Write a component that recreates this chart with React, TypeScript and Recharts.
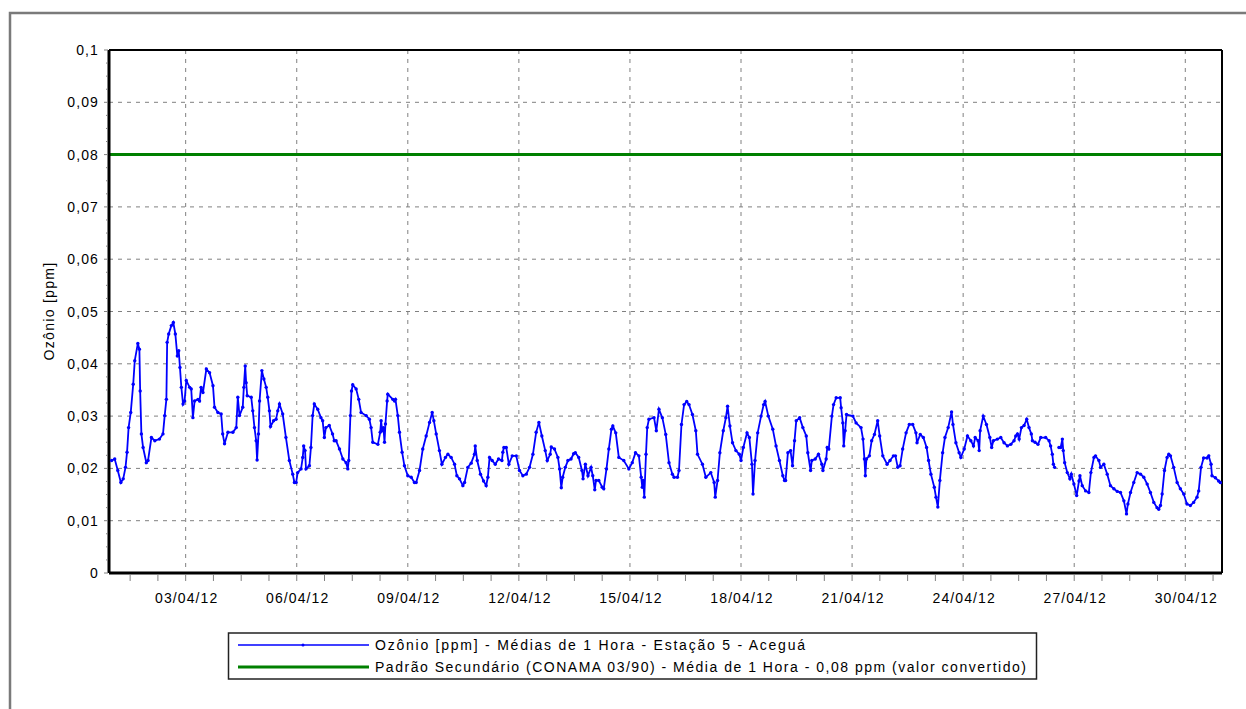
import React from 'react';
import { LineChart, Line, XAxis, YAxis, CartesianGrid, ReferenceLine } from 'recharts';

// Hours since 01/04/12 00:00
const hours: number[] = [
  0, 2, 4, 6, 7.5, 9, 10, 11, 12.4, 14, 15, 17, 18, 18.5, 19.3, 20.4, 22.5, 23.6, 25.8, 28,
  31, 33.3, 34.4, 35.5, 36, 37, 38.7, 40, 41.3, 42.6, 43.5, 44.3, 45.2, 46.3, 47.3, 48.4, 50.6, 51.6, 52.7, 53.8,
  56, 57, 58, 59.2, 61.4, 63.5, 65.7, 66.7, 68.9, 71, 72, 73.2, 75.4, 78.6, 80.8, 81.8, 82.9, 85, 85.7, 86.6,
  87.2, 87.9, 90.5, 91.5, 92.6, 93.7, 94.3, 95.2, 95.9, 97.4, 98.7, 100.2, 101.2, 102.3, 103, 105, 106.6, 107.7, 108.8, 110.9,
  113, 115.2, 117.4, 118.5, 119.6, 120.6, 122.8, 123.9, 124.5, 125.4, 126, 128.2, 129.2, 130.3, 131.4, 133.6, 135.7, 136.8, 137.9, 138.9,
  141.1, 143.2, 144.3, 145.5, 147.7, 149.9, 152, 153.1, 153.7, 154.8, 155.5, 156.3, 158.5, 160.2, 161.7, 165, 167.1, 168.2, 169.3, 172.6,
  174.1, 174.7, 175.4, 176.2, 176.9, 177.5, 178.6, 179, 182.3, 183.4, 184, 185.5, 186.6, 188.3, 189.8, 192, 194.2, 196.3, 197.4, 199.6,
  201.7, 203.9, 206.1, 207.8, 208.9, 210.4, 212.5, 214.1, 216.4, 218, 220.1, 222.3, 223.8, 225.5, 227.7, 228.8, 230.9, 233.1, 235.2, 235.7,
  237, 239.1, 241.1, 242.8, 243.9, 245, 246.7, 248.7, 250.8, 253, 253.6, 254.3, 255.8, 257.5, 259.7, 262.3, 264.4, 266.6, 268.8, 270.9,
  273.1, 275.2, 277, 278.9, 281.1, 282.4, 284.3, 285, 287.1, 289.3, 290.4, 291.5, 292.4, 294.1, 295.8, 297.8, 299.5, 300.6, 302.8, 304.9,
  305.6, 307.1, 308.8, 310.8, 311.9, 313.2, 314, 315.8, 318, 319, 320.8, 322.3, 324, 324.9, 326.8, 328.8, 332, 335.3, 337.5, 339.6,
  341.8, 343.3, 344, 344.6, 345.3, 346.4, 347.2, 348.3, 351.6, 353.1, 354.8, 357, 359.2, 361.3, 363.5, 364.6, 366.8, 367.8, 369.4, 371.1,
  372.8, 374.3, 376.5, 378.7, 379.8, 383, 385.2, 388.4, 390.6, 391.3, 392.8, 394.3, 396.5, 398.2, 399.3, 400.8, 402.5, 404.7, 406.9, 408,
  409.5, 411.9, 413.4, 415.1, 415.8, 417.1, 418.8, 421, 422.7, 423.6, 425.7, 428.6, 430.7, 432.9, 435.1, 436.2, 436.9, 438.4, 440.1, 441.4,
  442.7, 443.8, 446, 448.1, 450.3, 451.3, 453.1, 453.9, 456.1, 458.2, 460.4, 461.1, 463.2, 463.9, 464.9, 466.9, 468, 469.7, 472.3, 472.9,
  474, 474.6, 475.5, 476.4, 480.5, 482.6, 485.8, 487.1, 488, 488.6, 489.3, 491.2, 492.7, 494.5, 496.6, 497.9, 499.9, 502.7, 504.6, 506.8,
  508.1, 509.6, 511.1, 512.8, 515, 517.1, 519.3, 521.4, 522.1, 524.2, 526.2, 528.3, 529.6, 531.1, 533.3, 534.4, 535.6, 536.9, 538.7, 540.2,
  542.3, 544.5, 545.4, 547.3, 549.4, 550.5, 552.7, 554.8, 557, 558.7, 559.8, 561.7, 562.4, 563, 565, 567.1, 569.3, 570.5, 571.6, 574.2,
  576.4, 578.5, 580.7, 582.9, 585, 586.1, 587.2, 588.3, 589.8, 591.5, 593.2, 594.7, 596.2, 596.9, 598.6, 600.5, 602.3, 605.5, 607.7, 608.7,
  609.8, 610.5, 611.3, 612.5, 614.1, 615.2, 616.3, 616.9, 617.8, 619.5, 621.2, 622.1, 623.8, 625.6, 627.1, 627.7, 629.2, 631.4, 633.5, 634.8,
  636.8, 637.8, 640, 641.1, 643.2, 645.4, 647.5, 649.7, 651.9, 654, 656.2, 657.9, 658.8, 660.5, 662.6, 664.8, 667, 669.1, 671.3, 673.4,
  675.6, 677.7, 678.8, 679.9, 681, 682.5, 684.2, 685.3, 686.4, 688.5, 690.7, 692.8, 695, 697.1, 699.3, 701.4, 703.6, 704.7, 706.2, 707.9,
  710.1, 711.2, 712.7, 713.3, 715.5, 717.6, 718.7,
];

// Ozone [ppm], hourly means, Estação 5 - Aceguá (null = missing data)
const ozone: (number | null)[] = [
  0.0215, 0.0218, 0.0196, 0.0173, 0.0180, 0.0202, 0.0231, 0.0278, 0.0307, 0.0361, 0.0406, 0.0439, 0.0428, 0.0348, 0.0266, 0.0240, 0.0211, 0.0215, 0.0259, 0.0253,
  0.0256, 0.0266, 0.0301, 0.0332, 0.0441, 0.0457, 0.0473, 0.0479, 0.0457, 0.0415, 0.0425, 0.0393, 0.0355, 0.0323, 0.0329, 0.0368, 0.0355, 0.0352, 0.0297, 0.0329,
  0.0332, 0.0329, 0.0355, 0.0345, 0.0390, 0.0383, 0.0358, 0.0317, 0.0307, 0.0304, 0.0266, 0.0247, 0.0269, 0.0269, 0.0278, 0.0336, 0.0301, 0.0317, 0.0355, 0.0396,
  0.0364, 0.0339, 0.0336, 0.0310, 0.0278, 0.0253, 0.0216, 0.0266, 0.0329, 0.0387, 0.0371, 0.0355, 0.0336, 0.0310, 0.0280, 0.0291, 0.0294, 0.0310, 0.0323, 0.0304,
  0.0259, 0.0215, 0.0189, 0.0173, 0.0173, 0.0192, 0.0199, 0.0221, 0.0243, 0.0234, 0.0199, 0.0205, 0.0240, 0.0301, 0.0323, 0.0313, 0.0297, 0.0291, 0.0259, 0.0278,
  0.0282, 0.0266, 0.0253, 0.0253, 0.0237, 0.0218, 0.0211, 0.0199, 0.0215, 0.0301, 0.0348, 0.0360, 0.0352, 0.0332, 0.0307, 0.0301, 0.0294, 0.0278, 0.0250, 0.0246,
  0.0269, 0.0291, 0.0272, 0.0278, 0.0250, 0.0285, 0.0329, 0.0342, 0.0332, 0.0329, 0.0332, 0.0301, 0.0269, 0.0231, 0.0205, 0.0186, 0.0183, 0.0173, 0.0173, 0.0196,
  0.0237, 0.0262, 0.0288, 0.0307, 0.0291, 0.0266, 0.0234, 0.0208, 0.0221, 0.0227, 0.0221, 0.0208, 0.0186, 0.0180, 0.0167, 0.0173, 0.0202, 0.0210, 0.0227, 0.0243,
  0.0215, 0.0189, 0.0176, 0.0167, 0.0183, 0.0221, 0.0215, 0.0208, 0.0218, 0.0215, 0.0231, 0.0240, 0.0240, 0.0208, 0.0224, 0.0224, 0.0196, 0.0186, 0.0189, 0.0202,
  0.0227, 0.0269, 0.0288, 0.0262, 0.0234, 0.0215, 0.0227, 0.0241, 0.0237, 0.0221, 0.0199, 0.0163, 0.0183, 0.0202, 0.0215, 0.0218, 0.0228, 0.0230, 0.0221, 0.0196,
  0.0180, 0.0208, 0.0186, 0.0202, 0.0186, 0.0159, 0.0177, 0.0177, 0.0164, 0.0161, 0.0199, 0.0237, 0.0275, 0.0281, 0.0268, 0.0221, 0.0215, 0.0199, 0.0211, 0.0230,
  0.0224, 0.0183, 0.0164, 0.0177, 0.0145, 0.0227, 0.0278, 0.0294, 0.0297, 0.0272, 0.0313, 0.0297, 0.0265, 0.0211, 0.0189, 0.0183, 0.0183, 0.0196, 0.0284, 0.0322,
  0.0328, 0.0322, 0.0303, 0.0272, 0.0227, 0.0208, 0.0183, 0.0192, 0.0173, 0.0145, 0.0177, 0.0230, 0.0272, 0.0297, 0.0319, 0.0281, 0.0249, 0.0234, 0.0227, 0.0215,
  0.0240, 0.0268, 0.0259, 0.0208, 0.0151, 0.0215, 0.0268, 0.0300, 0.0322, 0.0328, 0.0300, 0.0275, 0.0243, 0.0215, 0.0186, 0.0177, 0.0177, 0.0230, 0.0234, 0.0205,
  0.0253, 0.0291, 0.0297, 0.0278, 0.0262, 0.0230, 0.0196, 0.0215, 0.0218, 0.0227, 0.0208, 0.0196, 0.0218, 0.0240, 0.0237, 0.0300, 0.0322, 0.0335, 0.0335, 0.0316,
  0.0287, 0.0243, 0.0272, 0.0303, 0.0300, 0.0287, 0.0278, 0.0256, 0.0218, 0.0186, 0.0218, 0.0224, 0.0253, 0.0265, 0.0291, 0.0262, 0.0224, 0.0208, 0.0215, 0.0224,
  0.0224, 0.0202, 0.0205, 0.0237, 0.0268, 0.0284, 0.0284, 0.0268, 0.0249, 0.0265, 0.0259, 0.0240, 0.0215, 0.0189, 0.0164, 0.0145, 0.0126, 0.0177, 0.0230, 0.0259,
  0.0278, 0.0308, 0.0284, 0.0249, 0.0230, 0.0221, 0.0237, 0.0262, 0.0253, 0.0243, 0.0259, 0.0253, 0.0234, 0.0272, 0.0300, 0.0284, 0.0259, 0.0240, 0.0253, 0.0256,
  0.0259, 0.0249, 0.0243, 0.0246, 0.0253, 0.0262, 0.0266, 0.0256, 0.0278, 0.0282, 0.0294, 0.0278, 0.0266, 0.0253, 0.0250, 0.0246, 0.0259, 0.0259, 0.0253, 0.0243,
  0.0227, 0.0208, 0.0202, null, 0.0240, 0.0240, 0.0256, 0.0234, 0.0211, 0.0192, 0.0180, 0.0189, 0.0170, 0.0148, 0.0176, 0.0186, 0.0167, 0.0157, 0.0154, 0.0192,
  0.0221, 0.0224, 0.0215, 0.0202, 0.0208, 0.0189, 0.0167, 0.0161, 0.0156, 0.0154, 0.0138, 0.0113, 0.0132, 0.0154, 0.0173, 0.0192, 0.0189, 0.0183, 0.0170, 0.0154,
  0.0135, 0.0125, 0.0122, 0.0129, 0.0151, 0.0196, 0.0221, 0.0227, 0.0224, 0.0202, 0.0173, 0.0161, 0.0151, 0.0132, 0.0129, 0.0135, 0.0145, 0.0157, 0.0202, 0.0220,
  0.0220, 0.0224, 0.0208, 0.0186, 0.0182, 0.0176, 0.0173,
];

const standardValue = 0.08;
const xDomain: [number, number] = [-1.7, 719.8];
const standardHours = xDomain;

const yMajorTicks = [0, 0.01, 0.02, 0.03, 0.04, 0.05, 0.06, 0.07, 0.08, 0.09, 0.1];
const yMinorStep = 0.0025;
const yAllTicks: number[] = Array.from({ length: 41 }, (_, i) => +(i * yMinorStep).toFixed(4));

const xLabelHours = [48, 120, 192, 264, 336, 408, 480, 552, 624, 696];
const xLabels = ['03/04/12', '06/04/12', '09/04/12', '12/04/12', '15/04/12', '18/04/12', '21/04/12', '24/04/12', '27/04/12', '30/04/12'];
const xMinorStep = 18;
const xAllTicks: number[] = Array.from({ length: 40 }, (_, i) => 12 + i * xMinorStep);

const seriesLabel = 'Ozônio [ppm] - Médias de 1 Hora - Estação 5 - Aceguá';
const standardLabel = 'Padrão Secundário (CONAMA 03/90) - Média de 1 Hora - 0,08 ppm (valor convertido)';
const yAxisLabel = 'Ozônio [ppm]';

const ozoneData = hours.map((h, i) => ({ h, v: ozone[i] }));
const standardData = standardHours.map((h) => ({ h, v: standardValue }));

const FONT = '"Liberation Sans", Arial, sans-serif';

const fmtY = (v: number) => {
  if (v === 0) return '0';
  return v.toFixed(2).replace(/0+$/, '').replace('.', ',');
};

const YTick = (props: any) => {
  const { x, y, payload } = props;
  const v = payload.value as number;
  const isMajor = Math.abs(v * 100 - Math.round(v * 100)) < 1e-6;
  return (
    <g>
      <line x1={x - (isMajor ? 5 : 3)} x2={x - 1} y1={y} y2={y} stroke="#808080" strokeWidth={1} />
      {isMajor && (
        <text x={x - 10} y={y} dy={5} textAnchor="end" fontFamily={FONT} fontSize={14} letterSpacing={1.1} fill="#000">
          {fmtY(v)}
        </text>
      )}
    </g>
  );
};

const XTick = (props: any) => {
  const { x, y, payload } = props;
  const h = payload.value as number;
  const idx = xLabelHours.indexOf(h);
  return (
    <g>
      <line x1={x} x2={x} y1={y + 1} y2={y + 8} stroke="#808080" strokeWidth={1} />
      {idx >= 0 && (
        <text x={x + 1} y={y + 30} textAnchor="middle" fontFamily={FONT} fontSize={14} letterSpacing={1.1} fill="#000">
          {xLabels[idx]}
        </text>
      )}
    </g>
  );
};

export default function App() {
  return (
    <div style={{ position: 'absolute', left: 0, top: 0, width: 1246, height: 709, background: '#fff' }}>
      <LineChart width={1246} height={709} margin={{ top: 50, right: 24, bottom: 96, left: 49 }}>
        <CartesianGrid
          stroke="#808080"
          strokeDasharray="4 5"
          horizontalValues={yMajorTicks}
          verticalValues={xLabelHours}
        />
        <Line
          data={standardData}
          dataKey="v"
          stroke="#008000"
          strokeWidth={3}
          dot={false}
          isAnimationActive={false}
        />
        <Line
          data={ozoneData}
          dataKey="v"
          stroke="#0000ff"
          strokeWidth={1.8}
          dot={{ r: 1.7, fill: '#0000ff', stroke: 'none' }}
          connectNulls={false}
          isAnimationActive={false}
        />
        <ReferenceLine y={0.1} stroke="#000" strokeWidth={2} />
        <ReferenceLine x={xDomain[1]} stroke="#000" strokeWidth={2} />
        <XAxis
          dataKey="h"
          type="number"
          domain={xDomain}
          allowDataOverflow
          ticks={xAllTicks}
          interval={0}
          tick={<XTick />}
          tickLine={false}
          tickSize={0}
          tickMargin={0}
          height={40}
          axisLine={{ stroke: '#000', strokeWidth: 3 }}
        />
        <YAxis
          type="number"
          domain={[0, 0.1]}
          allowDataOverflow
          ticks={yAllTicks}
          interval={0}
          tick={<YTick />}
          tickLine={false}
          tickSize={0}
          tickMargin={0}
          width={60}
          axisLine={{ stroke: '#000', strokeWidth: 3 }}
        />
      </LineChart>
      <svg
        width={1246}
        height={709}
        style={{ position: 'absolute', left: 0, top: 0, pointerEvents: 'none' }}
      >
        <path d="M10 709 L10 13 L1246 13" fill="none" stroke="#7a7a7a" strokeWidth={2.5} />
        <text
          x={0}
          y={0}
          transform="translate(49 311) rotate(-90)"
          textAnchor="middle"
          dominantBaseline="central"
          fontFamily={FONT}
          fontSize={14}
          letterSpacing={1.3}
          fill="#000"
        >
          {yAxisLabel}
        </text>
        <rect x={228.5} y={633} width={808} height={46} fill="#fff" stroke="#222" strokeWidth={1.5} />
        <line x1={238} x2={369} y1={645} y2={645} stroke="#0000ff" strokeWidth={1.5} />
        <circle cx={303} cy={645} r={1.5} fill="#0000ff" />
        <text x={375} y={650} fontFamily={FONT} fontSize={14} textLength={430} lengthAdjust="spacing" fill="#000">
          {seriesLabel}
        </text>
        <line x1={238} x2={369} y1={667} y2={667} stroke="#008000" strokeWidth={3} />
        <text x={375} y={672} fontFamily={FONT} fontSize={14} textLength={651} lengthAdjust="spacing" fill="#000">
          {standardLabel}
        </text>
      </svg>
    </div>
  );
}
